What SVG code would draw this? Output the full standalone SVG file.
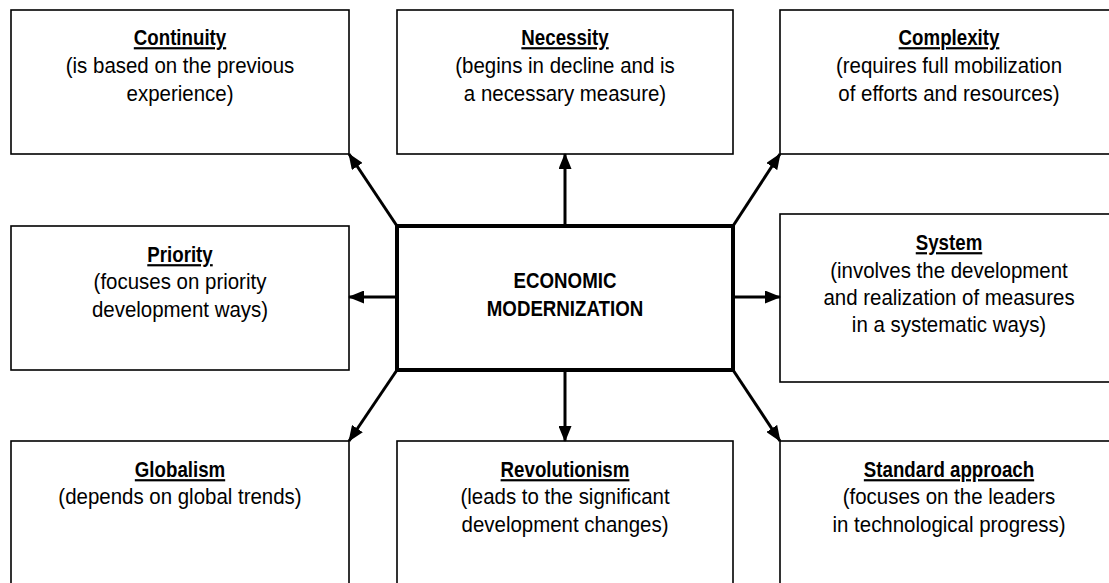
<svg xmlns="http://www.w3.org/2000/svg" width="1109" height="583" viewBox="0 0 1109 583">
<defs>
<style>
.box{fill:#fff;stroke:#000;stroke-width:1.6}
.center{fill:#fff;stroke:#000;stroke-width:4}
text{font-family:"Liberation Sans",Arial,Helvetica,sans-serif;font-size:22px;fill:#000;text-anchor:middle}
.t{font-weight:bold;text-decoration:underline}
.c{font-weight:bold}
.conn line{stroke:#000;stroke-width:3;marker-end:url(#ah)}
</style>
<marker id="ah" markerUnits="userSpaceOnUse" markerWidth="16" markerHeight="13" refX="15" refY="6.5" orient="auto">
<path d="M0,0 L16,6.5 L0,13 z" fill="#000"/>
</marker>
</defs>
<rect width="1109" height="583" fill="#fff"/>
<g id="continuity">
<rect class="box" x="11" y="10" width="338" height="144"/>
<text class="t" transform="translate(180 45) scale(0.85 1)">Continuity</text>
<text transform="translate(180 73) scale(0.93 1)">(is based on the previous</text>
<text transform="translate(180 101) scale(0.93 1)">experience)</text>
</g>
<g id="necessity">
<rect class="box" x="397" y="10" width="336" height="144"/>
<text class="t" transform="translate(565 45) scale(0.85 1)">Necessity</text>
<text transform="translate(565 73) scale(0.93 1)">(begins in decline and is</text>
<text transform="translate(565 101) scale(0.93 1)">a necessary measure)</text>
</g>
<g id="complexity">
<rect class="box" x="780" y="10" width="338" height="144"/>
<text class="t" transform="translate(949 45) scale(0.85 1)">Complexity</text>
<text transform="translate(949 73) scale(0.93 1)">(requires full mobilization</text>
<text transform="translate(949 101) scale(0.93 1)">of efforts and resources)</text>
</g>
<g id="priority">
<rect class="box" x="11" y="226" width="338" height="144"/>
<text class="t" transform="translate(180 262) scale(0.85 1)">Priority</text>
<text transform="translate(180 289) scale(0.93 1)">(focuses on priority</text>
<text transform="translate(180 317) scale(0.93 1)">development ways)</text>
</g>
<g id="economic-modernization">
<rect class="center" x="397" y="226" width="336" height="144"/>
<text class="c" transform="translate(565 288) scale(0.85 1)">ECONOMIC</text>
<text class="c" transform="translate(565 316) scale(0.85 1)">MODERNIZATION</text>
</g>
<g id="system">
<rect class="box" x="780" y="214" width="338" height="168"/>
<text class="t" transform="translate(949 250) scale(0.85 1)">System</text>
<text transform="translate(949 278) scale(0.93 1)">(involves the development</text>
<text transform="translate(949 305) scale(0.93 1)">and realization of measures</text>
<text transform="translate(949 332) scale(0.93 1)">in a systematic ways)</text>
</g>
<g id="globalism">
<rect class="box" x="11" y="441" width="338" height="160"/>
<text class="t" transform="translate(180 477) scale(0.85 1)">Globalism</text>
<text transform="translate(180 504) scale(0.93 1)">(depends on global trends)</text>
</g>
<g id="revolutionism">
<rect class="box" x="397" y="441" width="336" height="160"/>
<text class="t" transform="translate(565 477) scale(0.85 1)">Revolutionism</text>
<text transform="translate(565 504) scale(0.93 1)">(leads to the significant</text>
<text transform="translate(565 532) scale(0.93 1)">development changes)</text>
</g>
<g id="standard-approach">
<rect class="box" x="780" y="441" width="338" height="160"/>
<text class="t" transform="translate(949 477) scale(0.85 1)">Standard approach</text>
<text transform="translate(949 504) scale(0.93 1)">(focuses on the leaders</text>
<text transform="translate(949 532) scale(0.93 1)">in technological progress)</text>
</g>
<g id="connectors" class="conn">
<line x1="397" y1="226" x2="349" y2="154"/>
<line x1="565" y1="226" x2="565" y2="154"/>
<line x1="733" y1="226" x2="780" y2="154"/>
<line x1="397" y1="297" x2="349" y2="297"/>
<line x1="733" y1="297" x2="780" y2="297"/>
<line x1="397" y1="370" x2="349" y2="441"/>
<line x1="565" y1="370" x2="565" y2="441"/>
<line x1="733" y1="370" x2="780" y2="441"/>
</g>
</svg>
